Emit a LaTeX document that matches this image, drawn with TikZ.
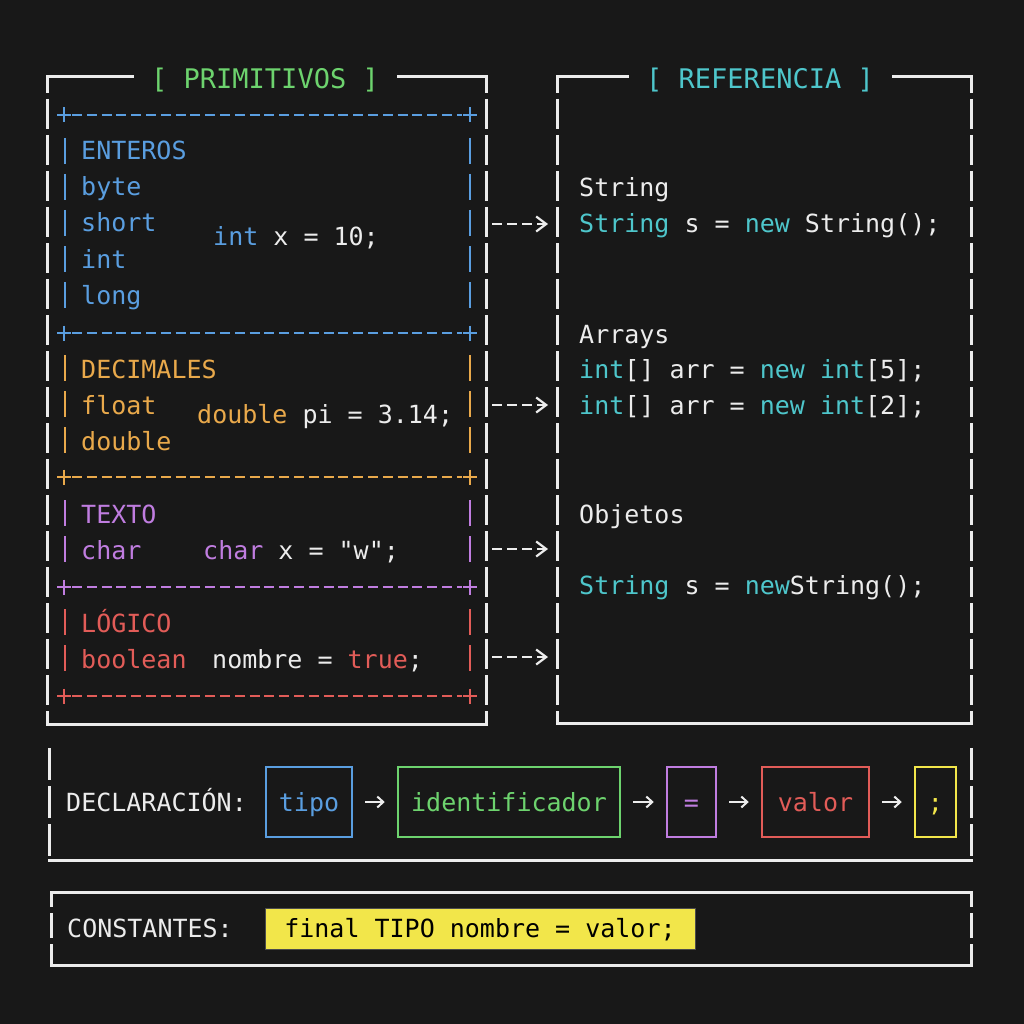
\documentclass[tikz,border=0pt]{standalone}
\usepackage{fontspec}
\setmainfont{DejaVu Sans Mono}[Ligatures=TeXOff]
\usetikzlibrary{arrows.meta}
\definecolor{bg}{HTML}{181818}
\definecolor{wt}{HTML}{ECECEC}
\definecolor{cb}{HTML}{5A9EE0}
\definecolor{co}{HTML}{E9A94B}
\definecolor{cp}{HTML}{C07DE0}
\definecolor{cr}{HTML}{E25C58}
\definecolor{cg}{HTML}{6DD36E}
\definecolor{cc}{HTML}{4EC6CB}
\definecolor{cy}{HTML}{F2E64A}
\tikzset{
  txt/.style={anchor=base west, inner sep=0pt, text=wt},
  ttl/.style={anchor=base, inner sep=0pt, font=\fontsize{27}{30}\selectfont},
  hline/.style={draw=wt, line width=3pt, line cap=rect},
  vline/.style={draw=wt, line width=3pt, dash pattern=on 30pt off 6pt, dash phase=14pt},
  dashsep/.style={line width=2.5pt, dash pattern=on 10pt off 4.8pt},
  plusmark/.style={line width=2.5pt},
  ibar/.style={line width=2.5pt},
  link/.style={draw=wt, line width=2.2pt, dash pattern=on 10pt off 5pt, -{Straight Barb[length=10pt,width=15pt]}},
  dbox/.style={draw, line width=2.5pt, minimum height=70pt, inner sep=0pt, text height=18pt, text depth=0pt},
  flow/.style={draw=wt, line width=2pt, -{Straight Barb[length=6pt,width=11pt]}, shorten <=12pt, shorten >=12pt}
}
\newcommand{\sepline}[2]{%
  \draw[#1,dashsep] (72,#2) -- (462,#2);
  \draw[#1,plusmark] (57,#2) -- (71,#2) (64,#2-7.5) -- (64,#2+7.5);
  \draw[#1,plusmark] (463,#2) -- (477,#2) (470,#2-7.5) -- (470,#2+7.5);
}
\newcommand{\rowbars}[2]{%
  \draw[#1,ibar] (65,#2-13) -- (65,#2+13) (470,#2-13) -- (470,#2+13);
}
\begin{document}
\begin{tikzpicture}[x=1pt,y=-1pt,font=\fontsize{25}{30}\selectfont]
\fill[bg] (0,0) rectangle (1024,1024);
\useasboundingbox (0,0) rectangle (1024,1024);

% ---------- PRIMITIVOS frame ----------
\draw[hline] (47,77) -- (132,77) (398,77) -- (486,77) (47,724) -- (486,724);
\draw[vline] (47,77) -- (47,724);
\draw[vline] (486,77) -- (486,724);
\node[ttl,text=cg] (tprim) at (265,89) {{[} PRIMITIVOS {]}};

% ---------- REFERENCIA frame ----------
\draw[hline] (557,77) -- (627,77) (893,77) -- (971,77) (557,723) -- (971,723);
\draw[vline] (557,77) -- (557,723);
\draw[vline] (971,77) -- (971,723);
\node[ttl,text=cc] (tref) at (760,89) {{[} REFERENCIA {]}};

% ---------- inner sections ----------
\sepline{cb}{115}
\foreach \r in {151,187,223,259,295} {\rowbars{cb}{\r}}
\sepline{cb}{333}
\foreach \r in {368,404,440} {\rowbars{co}{\r}}
\sepline{co}{477}
\foreach \r in {513,549} {\rowbars{cp}{\r}}
\sepline{cp}{587}
\foreach \r in {622,658} {\rowbars{cr}{\r}}
\sepline{cr}{696}

% blue
\node[txt,text=cb] (enteros) at (81,160) {ENTEROS};
\node[txt,text=cb] (byte) at (81,196) {byte};
\node[txt,text=cb] (short) at (81,232) {short};
\node[txt,text=cb] (intt) at (81,268) {int};
\node[txt,text=cb] (long) at (81,304) {long};
\node[txt] (exint) at (213,245) {\textcolor{cb}{int} x = 10;};
% orange
\node[txt,text=co] (decimales) at (81,378) {DECIMALES};
\node[txt,text=co] (float) at (81,414) {float};
\node[txt,text=co] (double) at (81,450) {double};
\node[txt] (exdouble) at (197,423) {\textcolor{co}{double} pi = 3.14;};
% purple
\node[txt,text=cp] (texto) at (81,523) {TEXTO};
\node[txt,text=cp] (char) at (81,559) {char};
\node[txt] (exchar) at (203,559) {\textcolor{cp}{char} x = "w";};
% red
\node[txt,text=cr] (logico) at (81,632) {LÓGICO};
\node[txt,text=cr] (boolean) at (81,668) {boolean};
\node[txt] (exbool) at (212,668) {nombre = \textcolor{cr}{true};};

% ---------- REFERENCIA content ----------
\node[txt] (rstr) at (579,197) {String};
\node[txt] (rstrex) at (579,233) {\textcolor{cc}{String} s = \textcolor{cc}{new} String();};
\node[txt] (rarr) at (579,343) {Arrays};
\node[txt] (rarr5) at (579,378) {\textcolor{cc}{int}[] arr = \textcolor{cc}{new} \textcolor{cc}{int}[5];};
\node[txt] (rarr2) at (579,414) {\textcolor{cc}{int}[] arr = \textcolor{cc}{new} \textcolor{cc}{int}[2];};
\node[txt] (robj) at (579,523) {Objetos};
\node[txt] (robjex) at (579,594) {\textcolor{cc}{String} s = \textcolor{cc}{new}String();};

% ---------- links between frames ----------
\foreach \i/\y in {1/224,2/405,3/549,4/657} {
  \coordinate (ls\i) at (492,\y);
  \coordinate (le\i) at (548,\y);
  \draw[link] (ls\i) -- (le\i);
}

% ---------- DECLARACION ----------
\draw[hline] (49,860) -- (971,860);
\draw[draw=wt, line width=3pt, dash pattern=on 32pt off 6pt] (49,748) -- (49,860);
\draw[draw=wt, line width=3pt, dash pattern=on 32pt off 6pt] (971,748) -- (971,860);
\node[txt] (declabel) at (66,811) {DECLARACIÓN:};
\node[dbox,draw=cb,text=cb,minimum width=86pt] (tipo) at (309,802) {tipo};
\node[dbox,draw=cg,text=cg,minimum width=222pt] (ident) at (509,802) {identificador};
\node[dbox,draw=cp,text=cp,minimum width=49pt] (eq) at (691.5,802) {=};
\node[dbox,draw=cr,text=cr,minimum width=107pt] (valor) at (815.5,802) {valor};
\node[dbox,draw=cy,text=cy,minimum width=41pt] (semi) at (935.5,802) {;};
\draw[flow] (tipo) -- (ident);
\draw[flow] (ident) -- (eq);
\draw[flow] (eq) -- (valor);
\draw[flow] (valor) -- (semi);

% ---------- CONSTANTES ----------
\draw[hline] (51,892) -- (971,892) (51,965) -- (971,965);
\draw[draw=wt, line width=3pt, dash pattern=on 25pt off 6pt, dash phase=10pt] (51,892) -- (51,965);
\draw[draw=wt, line width=3pt, dash pattern=on 25pt off 6pt, dash phase=10pt] (971,892) -- (971,965);
\node[txt] (constlabel) at (67,937) {CONSTANTES:};
\node[fill=cy, draw=black!70, line width=0.8pt, text=black, minimum width=430pt, minimum height=41pt, inner sep=0pt, text height=17pt, text depth=0pt] (constbox) at (480,928.5) {final TIPO nombre = valor;};
\end{tikzpicture}
\end{document}
